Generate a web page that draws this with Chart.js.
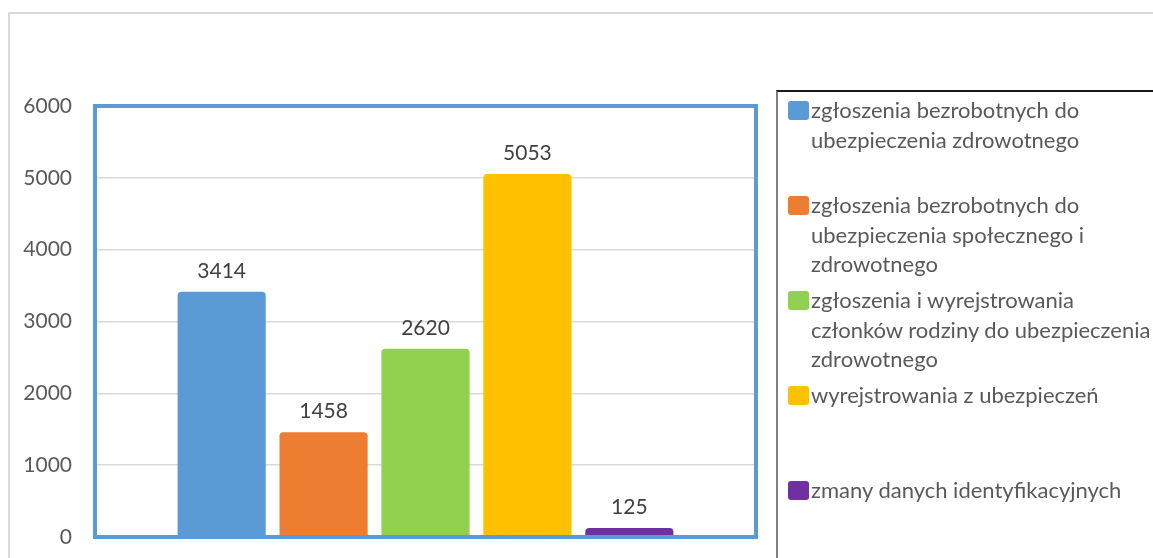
<!DOCTYPE html>
<html>
<head>
<meta charset="utf-8">
<script src="https://cdn.jsdelivr.net/npm/chart.js@4/dist/chart.umd.min.js"></script>
<style>
  html, body { margin: 0; padding: 0; background: #fff; }
  #wrap { position: relative; width: 1153px; height: 558px; overflow: hidden; }
  #frame { position: absolute; left: 8px; top: 12px; width: 1200px; height: 600px; border-left: 2px solid #d9d9d9; border-top: 2px solid #d9d9d9; }
  canvas { position: absolute; left: 0; top: 0; width: 1153px; height: 558px; }
  #legend { position: absolute; left: 776px; top: 90px; width: 400px; height: 500px; border-left: 2px solid #7f7f7f; border-top: 2px solid #1a1a1a; font-family: Lato, "Open Sans", sans-serif; font-size: 22px; color: #595959; }
  .item { position: absolute; left: 10px; height: 95px; width: 380px; }
  .sw { position: absolute; left: 0; top: 9px; width: 21px; height: 19px; border-radius: 3px; }
  .txt { position: absolute; left: 23px; top: 3px; line-height: 29.5px; white-space: pre; }
</style>
</head>
<body>
<div id="wrap">
  <div id="frame"></div>
  <canvas id="c" width="1153" height="558"></canvas>
  <div id="legend"></div>
</div>
<script>
const categories = [""];
const seriesNames = [
  "zgłoszenia bezrobotnych do\nubezpieczenia zdrowotnego",
  "zgłoszenia bezrobotnych do\nubezpieczenia społecznego i\nzdrowotnego",
  "zgłoszenia i wyrejstrowania\nczłonków rodziny do ubezpieczenia\nzdrowotnego",
  "wyrejstrowania z ubezpieczeń",
  "zmany danych identyfikacyjnych"
];
const seriesValues = [3414, 1458, 2620, 5053, 125];
const seriesColors = ["#5B9BD5", "#ED7D31", "#92D050", "#FFC000", "#7030A0"];
const yTicks = [0, 1000, 2000, 3000, 4000, 5000, 6000];

const datasets = seriesValues.map((v, i) => ({
  label: seriesNames[i].replace(/\n/g, " "),
  data: [v],
  backgroundColor: seriesColors[i],
  borderWidth: 0,
  borderRadius: { topLeft: 4, topRight: 4, bottomLeft: 0, bottomRight: 0 },
  borderSkipped: false,
  categoryPercentage: 0.771,
  barPercentage: 0.865
}));

const frameAndLabels = {
  id: "frameAndLabels",
  afterDatasetsDraw(chart) {
    const ctx = chart.ctx;
    ctx.save();
    ctx.font = "21px Lato, 'Open Sans', sans-serif";
    ctx.fillStyle = "#404040";
    ctx.textAlign = "center";
    ctx.textBaseline = "alphabetic";
    chart.data.datasets.forEach((ds, i) => {
      const meta = chart.getDatasetMeta(i);
      meta.data.forEach((bar, j) => {
        ctx.fillText(String(ds.data[j]), bar.x, bar.y - 14);
      });
    });
    const a = chart.chartArea;
    ctx.strokeStyle = "#5B9BD5";
    ctx.lineWidth = 4;
    ctx.strokeRect(a.left, a.top, a.right - a.left, a.bottom - a.top);
    ctx.restore();
  }
};

new Chart(document.getElementById("c"), {
  type: "bar",
  data: { labels: categories, datasets },
  options: {
    responsive: false,
    maintainAspectRatio: false,
    animation: false,
    layout: { padding: { left: 0, top: 106, right: 397, bottom: 21 } },
    plugins: { legend: { display: false }, tooltip: { enabled: false } },
    scales: {
      x: { display: false },
      y: {
        min: 0, max: 6000,
        afterFit(s) { s.width = 95; s.paddingTop = 0; s.paddingBottom = 0; },
        afterBuildTicks(s) { s.ticks = yTicks.map(v => ({ value: v })); },
        border: { display: false },
        grid: { color: "#d9d9d9", lineWidth: 1.5, drawTicks: false },
        ticks: {
          padding: 23, color: "#595959",
          font: { family: "Lato, 'Open Sans', sans-serif", size: 21 },
          callback: (v) => String(v)
        }
      }
    }
  },
  plugins: [frameAndLabels]
});

const legend = document.getElementById("legend");
seriesNames.forEach((name, i) => {
  const it = document.createElement("div");
  it.className = "item";
  it.style.top = (95 * i) + "px";
  const sw = document.createElement("div");
  sw.className = "sw";
  sw.style.background = seriesColors[i];
  const tx = document.createElement("div");
  tx.className = "txt";
  tx.textContent = name;
  it.appendChild(sw); it.appendChild(tx);
  legend.appendChild(it);
});
</script>
</body>
</html>
